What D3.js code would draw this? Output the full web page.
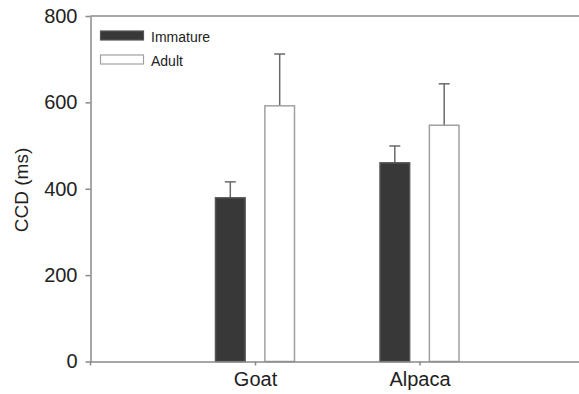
<!DOCTYPE html>
<html>
<head>
<meta charset="utf-8">
<script src="https://cdn.jsdelivr.net/npm/d3@7"></script>
<style>
  body { margin: 0; background: #fff; }
  text { font-family: "Liberation Sans", Arial, sans-serif; fill: #222; }
</style>
</head>
<body>
<svg id="chart"></svg>
<script>
var WIDTH = 579;
var HEIGHT = 394;

var categories = ["Goat", "Alpaca"];
var groups = ["Immature", "Adult"];
var immatureMeans = [379, 460];
var immatureErr = [37, 39];
var adultMeans = [592, 547];
var adultErr = [120, 96];
var yTicks = [0, 200, 400, 600, 800];

var LEFT = 90.5, TOP = 16, BOTTOM = 361.5;
var AXIS_COLOR = "#8a8a8a";

var svg = d3.select("#chart").attr("width", WIDTH).attr("height", HEIGHT);

var y = d3.scaleLinear().domain([0, 800]).range([BOTTOM, TOP]);
var x = d3.scalePoint().domain(categories).range([LEFT, 584]).padding(1);
// offset of each bar inside a category
var inner = d3.scaleBand().domain(groups).range([-39.5, 39.5]).paddingInner(0.4);

var rows = [];
categories.forEach(function (c, i) {
  rows.push({ cat: c, group: "Immature", mean: immatureMeans[i], err: immatureErr[i] });
  rows.push({ cat: c, group: "Adult", mean: adultMeans[i], err: adultErr[i] });
});

// top frame line
svg.append("line")
  .attr("x1", LEFT).attr("x2", WIDTH)
  .attr("y1", TOP).attr("y2", TOP)
  .attr("stroke", AXIS_COLOR).attr("stroke-width", 1.5);

// error bars (drawn under the bars)
var err = svg.append("g").attr("stroke", "#6a6a6a").attr("stroke-width", 1.5);
rows.forEach(function (d) {
  var cx = x(d.cat) + inner(d.group) + inner.bandwidth() / 2;
  err.append("line").attr("x1", cx).attr("x2", cx)
    .attr("y1", y(d.mean)).attr("y2", y(d.mean + d.err));
  err.append("line").attr("x1", cx - 5.5).attr("x2", cx + 5.5)
    .attr("y1", y(d.mean + d.err)).attr("y2", y(d.mean + d.err));
});

svg.selectAll(".bar")
  .data(rows)
  .enter()
  .append("rect")
  .attr("class", "bar")
  .attr("x", function (d) { return x(d.cat) + inner(d.group); })
  .attr("width", inner.bandwidth())
  .attr("y", function (d) { return y(d.mean); })
  .attr("height", function (d) { return y(0) - y(d.mean); })
  .attr("fill", function (d) { return d.group == "Immature" ? "#383838" : "#fff"; })
  .attr("stroke", function (d) { return d.group == "Immature" ? "#555" : "#a0a0a0"; })
  .attr("stroke-width", 1.5);

// y axis
var yAxis = svg.append("g")
  .attr("transform", "translate(" + LEFT + ",0)")
  .call(d3.axisLeft(y).tickValues(yTicks).tickSize(5).tickSizeOuter(0).tickPadding(8));
yAxis.selectAll("path, line").attr("stroke", AXIS_COLOR).attr("stroke-width", 1.5);
yAxis.selectAll("text").attr("font-size", 20).attr("fill", "#222")
  .style("font-family", "'Liberation Sans', Arial, sans-serif");
svg.append("line")
  .attr("x1", LEFT).attr("x2", LEFT).attr("y1", BOTTOM).attr("y2", BOTTOM + 4)
  .attr("stroke", AXIS_COLOR).attr("stroke-width", 1.5);

// x axis
var xAxis = svg.append("g")
  .attr("transform", "translate(0," + BOTTOM + ")")
  .call(d3.axisBottom(x).tickSize(4).tickSizeOuter(0).tickPadding(6));
xAxis.selectAll("path, line").attr("stroke", AXIS_COLOR).attr("stroke-width", 1.5);
xAxis.selectAll("text").attr("font-size", 20).attr("fill", "#222")
  .style("font-family", "'Liberation Sans', Arial, sans-serif");

// axis title
svg.append("text")
  .attr("transform", "translate(28,190) rotate(-90)")
  .attr("text-anchor", "middle")
  .attr("font-size", 19)
  .text("CCD (ms)");

// legend
var legend = svg.append("g");
groups.forEach(function (g, i) {
  var ly = 31 + i * 24;
  legend.append("rect")
    .attr("x", 100.5).attr("y", ly).attr("width", 43).attr("height", 9)
    .attr("fill", g == "Immature" ? "#383838" : "#fff")
    .attr("stroke", g == "Immature" ? "#555" : "#a0a0a0")
    .attr("stroke-width", 1.2);
  legend.append("text")
    .attr("x", 151).attr("y", ly + 11)
    .attr("font-size", 14)
    .text(g);
});
</script>
</body>
</html>
